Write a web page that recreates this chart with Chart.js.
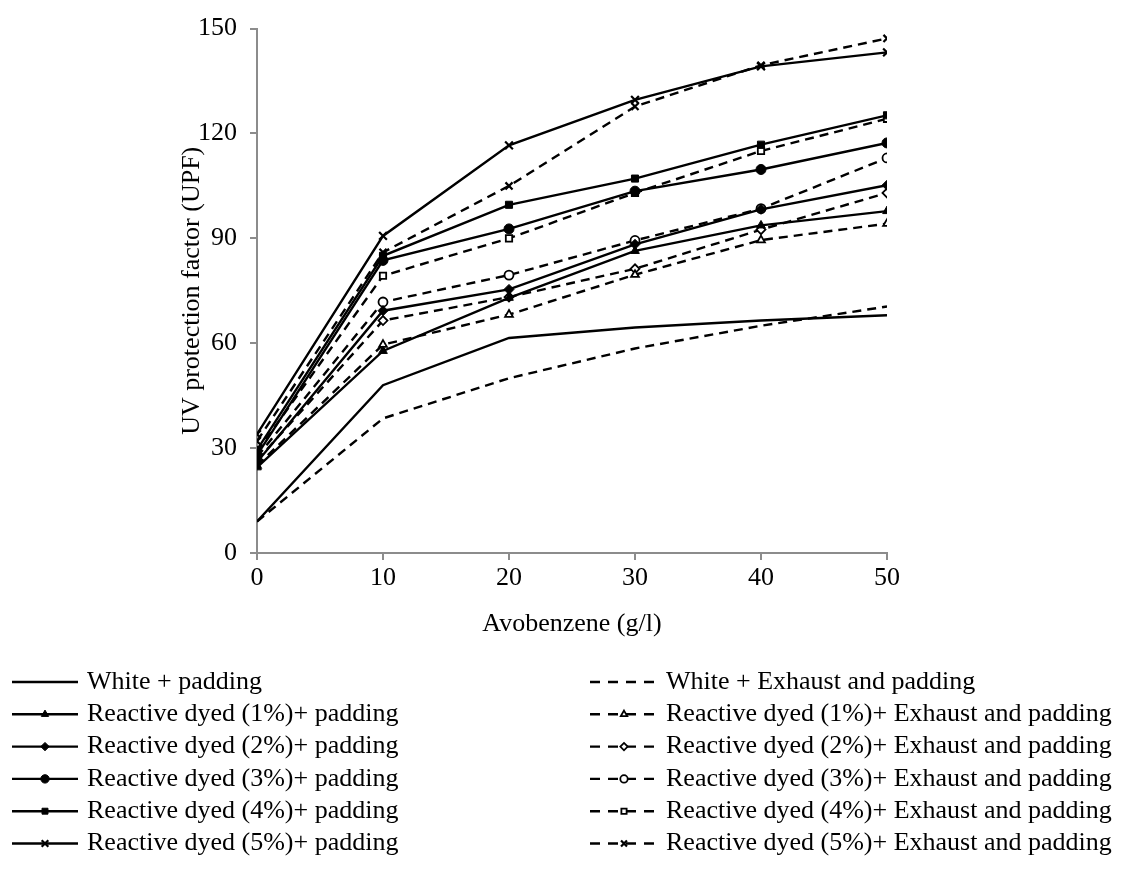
<!DOCTYPE html>
<html>
<head>
<meta charset="utf-8">
<script src="https://cdn.jsdelivr.net/npm/chart.js@4.4.1/dist/chart.umd.min.js"></script>
<style>
  html, body { margin: 0; padding: 0; background: #fff; }
  #wrap { width: 1125px; height: 869px; }
</style>
</head>
<body>
<div id="wrap"><canvas id="upfChart" width="1125" height="869"></canvas></div>
<script>
const avobenzene = [0, 10, 20, 30, 40, 50];

const whitePad = [9, 48, 61.5, 64.5, 66.5, 68];
const whiteExh = [9, 38.5, 50, 58.5, 65, 70.5];
const r1Pad = [24.5, 57.8, 73, 86.4, 93.7, 97.8];
const r1Exh = [25, 59.6, 68.2, 79.6, 89.5, 94.2];
const r2Pad = [26, 69.3, 75.4, 88.3, 98.3, 105.2];
const r2Exh = [26.5, 66.5, 73.2, 81.3, 92.5, 103];
const r3Pad = [28, 83.7, 92.7, 103.5, 109.7, 117.3];
const r3Exh = [27.5, 71.8, 79.5, 89.4, 98.5, 113];
const r4Pad = [29.5, 85, 99.6, 107.1, 116.8, 125.2];
const r4Exh = [29, 79.3, 90, 103, 115, 124.2];
const r5Pad = [34, 90.7, 116.6, 129.6, 139.2, 143.2];
const r5Exh = [32, 86, 105, 127.7, 139.5, 147.2];

const padLabels = [
  'White + padding',
  'Reactive dyed (1%)+ padding',
  'Reactive dyed (2%)+ padding',
  'Reactive dyed (3%)+ padding',
  'Reactive dyed (4%)+ padding',
  'Reactive dyed (5%)+ padding',
];
const exhLabels = [
  'White + Exhaust and padding',
  'Reactive dyed (1%)+ Exhaust and padding',
  'Reactive dyed (2%)+ Exhaust and padding',
  'Reactive dyed (3%)+ Exhaust and padding',
  'Reactive dyed (4%)+ Exhaust and padding',
  'Reactive dyed (5%)+ Exhaust and padding',
];
const padSeries = [whitePad, r1Pad, r2Pad, r3Pad, r4Pad, r5Pad];
const exhSeries = [whiteExh, r1Exh, r2Exh, r3Exh, r4Exh, r5Exh];
const markers = [false, 'triangle', 'rectRot', 'circle', 'rect', 'crossRot'];

const FONT = "'Liberation Serif', 'Times New Roman', serif";
const AXIS = '#8c8c8c';
const DASH = [9, 6];

const toXY = (vals) => vals.map((v, i) => ({ x: avobenzene[i], y: v }));

function padDataset(i) {
  const m = markers[i];
  return {
    label: padLabels[i],
    data: toXY(padSeries[i]),
    borderColor: '#000',
    borderWidth: 2.4,
    pointStyle: m || 'circle',
    pointRadius: m ? (m === 'crossRot' ? 5.5 : 5) : 0,
    pointBorderWidth: m === 'crossRot' ? 2.2 : 1,
    pointBackgroundColor: '#000',
    pointBorderColor: '#000',
    _col: 0, _row: i,
  };
}

function exhDataset(i) {
  const m = markers[i];
  return {
    label: exhLabels[i],
    data: toXY(exhSeries[i]),
    borderColor: '#000',
    borderWidth: 2.4,
    borderDash: DASH,
    pointStyle: m || 'circle',
    pointRadius: m ? (m === 'crossRot' ? 5 : 4.5) : 0,
    pointBorderWidth: m === 'crossRot' ? 2.2 : 1.8,
    pointBackgroundColor: '#fff',
    pointBorderColor: '#000',
    _col: 1, _row: i,
  };
}

const datasets = [];
for (let i = 0; i < 6; i++) datasets.push(padDataset(i));
for (let i = 0; i < 6; i++) datasets.push(exhDataset(i));

// legend in two columns under the plot, drawn by hand
const twoColLegend = {
  id: 'twoColLegend',
  afterDraw(chart) {
    const ctx = chart.ctx;
    const cols = [{ x0: 12, x1: 78, tx: 87 }, { x0: 590, x1: 658, tx: 666 }];
    ctx.save();
    chart.data.datasets.forEach((ds) => {
      const c = cols[ds._col];
      const y = 682 + ds._row * 32.3;
      ctx.strokeStyle = '#000';
      ctx.lineWidth = 2.4;
      ctx.setLineDash(ds.borderDash ? [10, 8] : []);
      ctx.beginPath();
      ctx.moveTo(c.x0, y);
      ctx.lineTo(c.x1, y);
      ctx.stroke();
      ctx.setLineDash([]);
      if (ds.pointRadius > 0) {
        ctx.fillStyle = ds.pointBackgroundColor;
        ctx.strokeStyle = '#000';
        ctx.lineWidth = ds.pointBorderWidth;
        Chart.helpers.drawPoint(ctx, {
          pointStyle: ds.pointStyle,
          radius: ds.pointRadius - 0.8,
          borderWidth: ds.pointBorderWidth,
          rotation: 0,
        }, (c.x0 + c.x1) / 2, y);
      }
      ctx.fillStyle = '#000';
      ctx.font = `26px ${FONT}`;
      ctx.textBaseline = 'middle';
      ctx.textAlign = 'left';
      ctx.fillText(ds.label, c.tx, y);
    });
    ctx.restore();
  },
};

new Chart(document.getElementById('upfChart').getContext('2d'), {
  type: 'line',
  data: { datasets },
  options: {
    responsive: false,
    animation: false,
    layout: { padding: { left: 177, right: 238, top: 25, bottom: 216 } },
    plugins: { legend: { display: false }, tooltip: { enabled: false } },
    elements: { line: { tension: 0 } },
    scales: {
      x: {
        type: 'linear',
        min: 0, max: 50,
        ticks: { stepSize: 10, color: '#000', font: { family: FONT, size: 26 }, padding: 3, maxRotation: 0 },
        grid: { display: true, drawOnChartArea: false, color: AXIS, tickLength: 7, lineWidth: 2 },
        border: { color: AXIS, width: 2 },
        title: { display: true, text: 'Avobenzene (g/l)', color: '#000', font: { family: FONT, size: 26 }, padding: { top: 0, bottom: 13 } },
        afterFit: (s) => { s.height = 100; },
      },
      y: {
        min: 0, max: 150,
        ticks: { stepSize: 30, color: '#000', font: { family: FONT, size: 26 }, padding: 13 },
        grid: { display: true, drawOnChartArea: false, color: AXIS, tickLength: 7, lineWidth: 2 },
        border: { color: AXIS, width: 2 },
        title: { display: true, text: 'UV protection factor (UPF)', color: '#000', font: { family: FONT, size: 26 }, padding: { top: 0, bottom: 0 } },
        afterFit: (s) => { s.width = 80; },
      },
    },
  },
  plugins: [twoColLegend],
});
</script>
</body>
</html>
